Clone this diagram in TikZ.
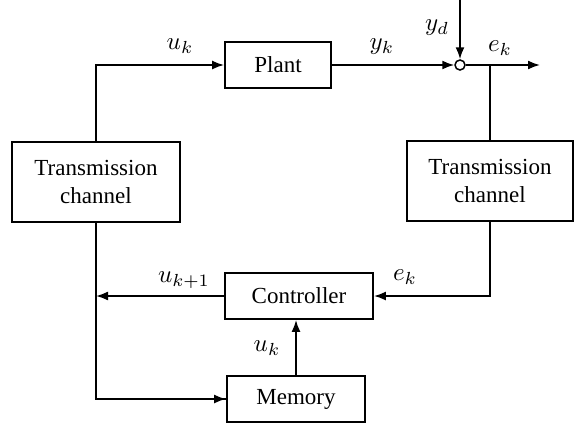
\documentclass[tikz,border=0pt]{standalone}
\usepackage{fontspec}
\setmainfont{Liberation Serif}
\usetikzlibrary{arrows.meta,calc}
\begin{document}
\begin{tikzpicture}[x=1pt,y=-1pt,line width=1.8pt,
  blk/.style={draw,inner sep=0pt,align=center,font=\fontsize{23}{28}\selectfont},
  arr/.style={-{Latex[length=12pt,width=9pt]}},
  lbl/.style={font=\normalsize,scale=2.5,inner sep=0pt}]
\useasboundingbox (0,0) rectangle (575,426);
\node[blk,minimum width=106pt,minimum height=46pt] (plant) at (278,65) {Plant};
\node[blk,minimum width=168pt,minimum height=80pt] (tcl) at (96,182) {Transmission\\channel};
\node[blk,minimum width=166pt,minimum height=80pt] (tcr) at (490,181) {Transmission\\channel};
\node[blk,minimum width=148pt,minimum height=46pt] (ctrl) at (299,296) {Controller};
\node[blk,minimum width=138pt,minimum height=46pt] (mem) at (296,399) {Memory};
\node[draw,circle,inner sep=0pt,minimum size=10pt,line width=1.5pt] (sum) at (460,65) {};
\coordinate (yd) at (460,0);
\coordinate (out) at (540,65);
\coordinate (br) at (tcr.north |- sum);
\draw[arr] (tcl.north) |- (plant.west);
\draw[arr] (plant.east) -- (sum.west);
\draw[arr] (yd) -- (sum.north);
\draw[arr] (sum.east) -- (out);
\draw (br) -- (tcr.north);
\draw[arr] (tcr.south) |- (ctrl.east);
\draw[arr] (ctrl.west) -- (ctrl.west -| tcl.south);
\draw (tcl.south) |- (mem.west);
\draw[arr] (tcl.south |- mem.west) -- (mem.west);
\draw[arr] (mem.north) -- (mem.north |- ctrl.south);
\node[lbl] (luk) at (180,46) {$u_k$};
\node[lbl] (lyk) at (382,47) {$y_k$};
\node[lbl] (lyd) at (437,28) {$y_d$};
\node[lbl] (lek) at (500,48) {$e_k$};
\node[lbl] (luk1) at (184,280) {$u_{k+1}$};
\node[lbl] (lek2) at (405,277) {$e_k$};
\node[lbl] (luk2) at (267,348) {$u_k$};
\end{tikzpicture}
\end{document}
